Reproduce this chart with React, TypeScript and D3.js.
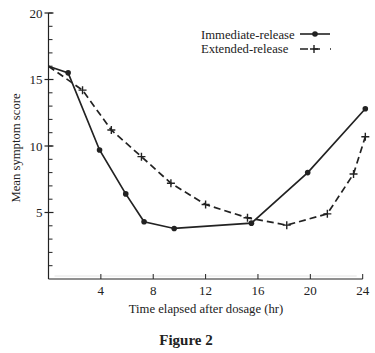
import React, { useEffect, useRef } from 'react';
import * as d3 from 'd3';

const W = 375;
const H = 353;
const margin = { top: 13, right: 12, bottom: 74, left: 48.5 };
const width = 362.7 - margin.left;
const height = 279 - margin.top;

// Immediate-release series
const irHours = [0, 1.5, 3.9, 5.9, 7.3, 9.6, 15.5, 19.8, 24.2];
const irScores = [16, 15.5, 9.7, 6.4, 4.3, 3.8, 4.2, 8.0, 12.8];

// Extended-release series
const erHours = [0, 2.6, 4.8, 7.1, 9.35, 12, 15.2, 18.2, 21.3, 23.3, 24.2];
const erScores = [16, 14.2, 11.2, 9.2, 7.2, 5.6, 4.6, 4.05, 4.9, 7.9, 10.7];

const xTicks = [4, 8, 12, 16, 20, 24];
const yTicks = [5, 10, 15, 20];

const font = '"Liberation Serif", "Times New Roman", serif';
const ink = '#222';

const App = () => {
  const ref = useRef<SVGSVGElement>(null);

  useEffect(() => {
    if (!ref.current) return;
    const root = d3.select(ref.current);
    root.selectAll('*').remove();

    const x = d3.scaleLinear().domain([0, 24]).range([0, width]);
    const y = d3.scaleLinear().domain([0, 20]).range([height, 0]);

    const svg = root.append('g').attr('transform', `translate(${margin.left},${margin.top})`);

    // y axis: line, minor ticks inward, major ticks both sides
    svg.append('line')
      .attr('x1', 0).attr('x2', 0).attr('y1', y(20)).attr('y2', height)
      .attr('stroke', ink).attr('stroke-width', 1.2);
    svg.selectAll('.ymin')
      .data(d3.range(1, 21))
      .enter().append('line')
      .attr('x1', 0).attr('x2', 4)
      .attr('y1', d => y(d)).attr('y2', d => y(d))
      .attr('stroke', ink).attr('stroke-width', 1);
    svg.selectAll('.ymaj')
      .data(yTicks)
      .enter().append('line')
      .attr('x1', -4).attr('x2', 5)
      .attr('y1', d => y(d)).attr('y2', d => y(d))
      .attr('stroke', ink).attr('stroke-width', 1.2);
    svg.selectAll('.ylab')
      .data(yTicks)
      .enter().append('text')
      .attr('x', -6).attr('y', d => y(d) + 4.5)
      .attr('text-anchor', 'end')
      .attr('font-family', font).attr('font-size', 13).attr('fill', ink)
      .text(d => d);

    // x axis
    svg.append('line')
      .attr('x1', 0).attr('x2', width).attr('y1', height).attr('y2', height)
      .attr('stroke', ink).attr('stroke-width', 1.2);
    svg.append('line')
      .attr('x1', 6).attr('x2', width - 6).attr('y1', height - 3).attr('y2', height - 3)
      .attr('stroke', '#ddd').attr('stroke-width', 0.8);
    svg.selectAll('.xt')
      .data(xTicks)
      .enter().append('line')
      .attr('x1', d => x(d)).attr('x2', d => x(d))
      .attr('y1', height).attr('y2', height - 5)
      .attr('stroke', ink).attr('stroke-width', 1);
    svg.selectAll('.xlab')
      .data(xTicks)
      .enter().append('text')
      .attr('x', d => x(d)).attr('y', height + 16)
      .attr('text-anchor', 'middle')
      .attr('font-family', font).attr('font-size', 13).attr('fill', ink)
      .text(d => d);

    const line = d3.line<[number, number]>()
      .x(d => x(d[0]))
      .y(d => y(d[1]));

    const ir = irHours.map((h, i) => [h, irScores[i]] as [number, number]);
    const er = erHours.map((h, i) => [h, erScores[i]] as [number, number]);

    // extended-release dashed
    svg.append('path')
      .attr('d', line(er))
      .attr('fill', 'none').attr('stroke', ink)
      .attr('stroke-width', 1.7).attr('stroke-dasharray', '7,4');
    svg.selectAll('.plus')
      .data(er.slice(1))
      .enter().append('path')
      .attr('d', d => `M${x(d[0]) - 4},${y(d[1])}h8M${x(d[0])},${y(d[1]) - 4}v8`)
      .attr('stroke', ink).attr('stroke-width', 1.4);

    // immediate-release solid
    svg.append('path')
      .attr('d', line(ir))
      .attr('fill', 'none').attr('stroke', ink).attr('stroke-width', 1.7);
    svg.selectAll('.dot')
      .data(ir.slice(1))
      .enter().append('circle')
      .attr('cx', d => x(d[0])).attr('cy', d => y(d[1]))
      .attr('r', 2.8).attr('fill', ink);

    // legend
    const lg = root.append('g');
    lg.append('text')
      .attr('x', 201).attr('y', 38.5)
      .attr('font-family', font).attr('font-size', 12.7).attr('fill', ink)
      .text('Immediate-release');
    lg.append('line')
      .attr('x1', 300).attr('x2', 330).attr('y1', 34).attr('y2', 34)
      .attr('stroke', ink).attr('stroke-width', 1.6);
    lg.append('circle').attr('cx', 315).attr('cy', 34).attr('r', 2.8).attr('fill', ink);
    lg.append('text')
      .attr('x', 201).attr('y', 52.5)
      .attr('font-family', font).attr('font-size', 12.7).attr('fill', ink)
      .text('Extended-release');
    lg.append('line')
      .attr('x1', 300).attr('x2', 331).attr('y1', 49).attr('y2', 49)
      .attr('stroke', ink).attr('stroke-width', 1.6).attr('stroke-dasharray', '8,5,7,10,1');
    lg.append('path')
      .attr('d', 'M310,49h8M314,45v8')
      .attr('stroke', ink).attr('stroke-width', 1.4);

    // axis titles
    root.append('text')
      .attr('transform', 'translate(20,148) rotate(-90)')
      .attr('text-anchor', 'middle')
      .attr('font-family', font).attr('font-size', 12.7).attr('fill', ink)
      .text('Mean symptom score');
    root.append('text')
      .attr('x', 206).attr('y', 313)
      .attr('text-anchor', 'middle')
      .attr('font-family', font).attr('font-size', 12.7).attr('fill', ink)
      .text('Time elapsed after dosage (hr)');
    root.append('text')
      .attr('x', 186).attr('y', 345)
      .attr('text-anchor', 'middle')
      .attr('font-family', font).attr('font-size', 15).attr('font-weight', 'bold').attr('fill', ink)
      .text('Figure 2');
  }, []);

  return (
    <svg
      ref={ref}
      width={W}
      height={H}
      style={{ position: 'absolute', left: 0, top: 0, background: '#fff' }}
    ></svg>
  );
};

export default App;
